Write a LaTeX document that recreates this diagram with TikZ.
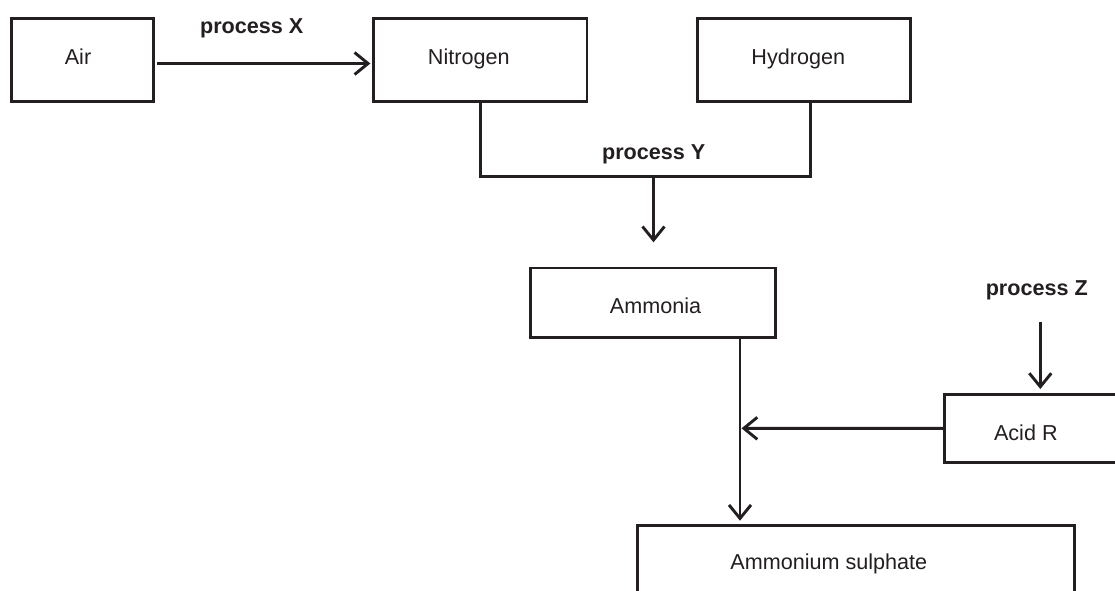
\documentclass[tikz,border=0pt]{standalone}
\usepackage{fontspec}
\setmainfont{Liberation Sans}
\usetikzlibrary{arrows.meta}
\definecolor{ink}{RGB}{35,31,32}
\tikzset{
  box/.style={draw=ink, line width=2.9pt, rectangle, inner sep=0pt, outer sep=0pt},
  lbl/.style={text=ink, font=\fontsize{21.6}{24}\selectfont, anchor=base, inner sep=0pt},
  proc/.style={text=ink, font=\bfseries\fontsize{21.6}{24}\selectfont, anchor=base, inner sep=0pt},
  ln/.style={draw=ink, line width=2.9pt},
  arr/.style={draw=ink, line width=2.9pt, -{Straight Barb[length=13.5pt,width=22pt]}}
}
\begin{document}
\begin{tikzpicture}[x=1pt,y=-1pt]
\useasboundingbox (0,0) rectangle (1115,590);
\clip (0,0) rectangle (1115,590);
\fill[white] (0,0) rectangle (1115,590);
% boxes
\node[box, minimum width=141.7pt, minimum height=83pt] (air) at (82.2,60.2) {};
\node[box, minimum width=213.3pt, minimum height=83pt] (nitro) at (480.3,60.2) {};
\node[box, minimum width=213.5pt, minimum height=83pt] (hydro) at (804,60.2) {};
\node[box, minimum width=245pt, minimum height=69.5pt] (ammonia) at (653.2,302.75) {};
\node[box, minimum width=200pt, minimum height=68.5pt] (acid) at (1044.3,428.4) {};
\node[box, minimum width=436.7pt, minimum height=100pt] (sulph) at (855.8,575.3) {};
% texts
\node[lbl] (tair) at (78,64) {Air};
\node[lbl] (tnitro) at (468.8,64) {Nitrogen};
\node[lbl] (thydro) at (798.3,64) {Hydrogen};
\node[lbl] (tammonia) at (655.5,313.3) {Ammonia};
\node[lbl] (tacid) at (1025.8,440) {Acid R};
\node[lbl] (tsulph) at (828.8,569.5) {Ammonium sulphate};
\node[proc] (px) at (251.7,33.3) {process X};
\node[proc] (py) at (653.7,159.3) {process Y};
\node[proc] (pz) at (1036.8,295) {process Z};
% coordinates
\coordinate (yj) at (653.5,176.2);
\coordinate (ytip) at (653.5,242.3);
\coordinate (mtop) at (740,337.5);
\coordinate (mj) at (740,428.3);
\coordinate (stip) at (740,520.7);
\coordinate (zs) at (1040.3,321.7);
\coordinate (ztip) at (1040.3,389);
% connectors
\draw[arr] ([xshift=4.3pt,yshift=-3.3pt]air.east) -- ([xshift=-3.3pt,yshift=-3.3pt]nitro.west);
\draw[ln] (nitro.south) |- (yj) -| ([xshift=6.5pt]hydro.south);
\draw[arr] (yj) -- (ytip);
\draw[arr] (mtop) -- (stip);
\draw[arr] (acid.west) -- ([xshift=1.5pt]mj);
\draw[arr] (zs) -- (ztip);
\end{tikzpicture}
\end{document}
